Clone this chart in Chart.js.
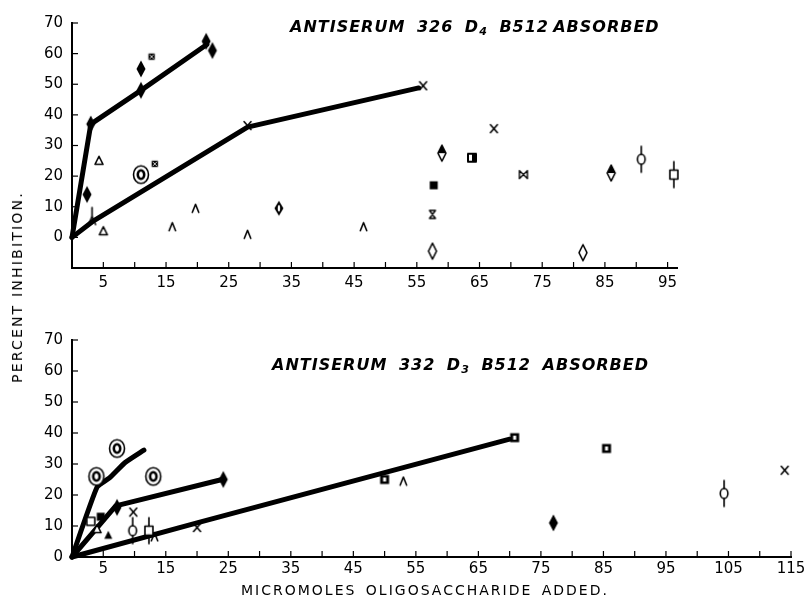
<!DOCTYPE html>
<html>
<head>
<meta charset="utf-8">
<script src="https://cdn.jsdelivr.net/npm/chart.js@4"></script>
<style>
  html,body{margin:0;padding:0;background:#fff;}
  #wrap{position:relative;width:808px;height:601px;overflow:hidden;background:#fff;}
  canvas{position:absolute;left:0;}
  .ttl{position:absolute;font:italic bold 16px "DejaVu Sans";letter-spacing:1px;word-spacing:5px;white-space:nowrap;color:#000;}
  .ttl sub{font-size:11px;vertical-align:-3px;}
  .ax{position:absolute;font:14px "DejaVu Sans";white-space:nowrap;color:#000;}
</style>
</head>
<body>
<div id="wrap">
  <canvas id="top" width="808" height="300" style="top:0"></canvas>
  <canvas id="bot" width="808" height="301" style="top:300px"></canvas>
  <div class="ttl" style="left:290px;top:17px;">ANTISERUM 326 D<sub>4</sub> B512<span style="word-spacing:0">&#8201;</span>ABSORBED</div>
  <div class="ttl" style="left:272px;top:355px;">ANTISERUM 332 D<sub>3</sub> B512 ABSORBED</div>
  <div class="ax" style="left:17px;top:287px;transform:translate(-50%,-50%) rotate(-90deg);letter-spacing:2.2px;">PERCENT INHIBITION.</div>
  <div class="ax" style="left:425px;top:590px;transform:translate(-50%,-50%);letter-spacing:2px;word-spacing:3px;">MICROMOLES OLIGOSACCHARIDE ADDED.</div>
</div>
<script>
// ---------------- DATA ----------------
// top panel: Antiserum 326 D4
const topLineAX = [0, 3, 11, 21.5];
const topLineAY = [0, 37, 48, 63];
const topLineBX = [0, 3.5, 28, 55.3];
const topLineBY = [0, 5.5, 36, 48.8];
const topDiaX = [2.4, 3, 11, 11, 21.4, 22.4];
const topDiaY = [14, 37, 48, 55, 64, 61];
const topCrossX = [28, 56, 67.3];
const topCrossY = [36.5, 49.5, 35.5];
const topStarX = [12.7, 13.2];
const topStarY = [59, 24];
const topTriX = [4.3, 5];
const topTriY = [25, 2];
const topLambdaX = [3.2];
const topLambdaY = [6.5];
const topRingX = [11];
const topRingY = [20.5];
const topCaretX = [16, 19.7, 28, 46.5];
const topCaretY = [3.5, 9.5, 1, 3.5];
const topDotDiaX = [33];
const topDotDiaY = [9.5];
const topFSqX = [57.7];
const topFSqY = [17];
const topHourX = [57.5];
const topHourY = [7.5];
const topODiaX = [57.5, 81.5];
const topODiaY = [-4.5, -5];
const topHDiaX = [59, 86];
const topHDiaY = [27.5, 21];
const topDotSqX = [63.8];
const topDotSqY = [26];
const topBowX = [72];
const topBowY = [20.5];
const topCircBarX = [90.8];
const topCircBarY = [25.5];
const topSqBarX = [96];
const topSqBarY = [20.5];

// bottom panel: Antiserum 332 D3
const botLineCX = [0, 4, 6, 8.5, 11.5];
const botLineCY = [0, 22.5, 25.5, 30.5, 34.5];
const botLineDX = [0, 7, 24];
const botLineDY = [0, 16.5, 25];
const botLineEX = [0, 20, 70];
const botLineEY = [0, 11, 38];
const botRingX = [3.9, 7.2, 13];
const botRingY = [26, 35, 26];
const botDiaX = [7.2, 24.2, 77];
const botDiaY = [16, 25, 11];
const botFSqX = [4.6];
const botFSqY = [13];
const botOSqX = [3];
const botOSqY = [11.5];
const botOTriX = [4];
const botOTriY = [9];
const botFTriX = [5.8];
const botFTriY = [7];
const botCrossX = [9.8, 20, 114];
const botCrossY = [14.5, 9.5, 28];
const botCircBarX = [9.7, 104.3];
const botCircBarY = [8.5, 20.5];
const botSqBarX = [12.3];
const botSqBarY = [8.5];
const botCaretX = [13.2, 53];
const botCaretY = [6.5, 24.5];
const botBoxSqX = [50, 70.8, 85.5];
const botBoxSqY = [25, 38.5, 35];

// axis ticks
const yTickStep = 10;
const xTickStep = 5;
const topX = {min: 0, max: 96.5};
const topY = {min: -10, max: 70};
const botX = {min: 0, max: 115};
const botY = {min: 0, max: 70};

// ---------------- MARKERS ----------------
function mk(w, h, fn) {
  const c = document.createElement('canvas');
  c.width = w; c.height = h;
  const g = c.getContext('2d');
  g.translate(w / 2, h / 2);
  g.fillStyle = '#000'; g.strokeStyle = '#000';
  g.lineWidth = 1.6; g.lineJoin = 'round'; g.lineCap = 'round';
  fn(g);
  return c;
}
function dia(g, rx, ry) { g.beginPath(); g.moveTo(0, -ry); g.lineTo(rx, 0); g.lineTo(0, ry); g.lineTo(-rx, 0); g.closePath(); }
function ln(g, a, b, c, d) { g.beginPath(); g.moveTo(a, b); g.lineTo(c, d); g.stroke(); }
const M = {
  fDiamond: mk(12, 20, g => { dia(g, 4.5, 8.5); g.fill(); }),
  oDiamond: mk(12, 20, g => { dia(g, 4, 8); g.fillStyle = '#fff'; g.fill(); g.stroke(); }),
  hDiamond: mk(12, 20, g => { dia(g, 4, 8); g.fillStyle = '#fff'; g.fill(); g.fillStyle = '#000';
    g.beginPath(); g.moveTo(0, -8); g.lineTo(4, 0); g.lineTo(-4, 0); g.closePath(); g.fill(); dia(g, 4, 8); g.stroke(); }),
  dotDiamond: mk(12, 18, g => { dia(g, 4.5, 7.5); g.fill(); g.fillStyle = '#fff'; g.beginPath(); g.ellipse(0, 0, 1.2, 3.2, 0, 0, 7); g.fill(); }),
  cross: mk(11, 11, g => { ln(g, -3.5, -4, 3.5, 4); ln(g, 3.5, -4, -3.5, 4); }),
  caret: mk(11, 11, g => { g.beginPath(); g.moveTo(-3.2, 4); g.lineTo(0, -4); g.lineTo(3.2, 4); g.stroke(); }),
  lambda: mk(11, 24, g => { g.beginPath(); g.moveTo(-3.5, 7); g.lineTo(0, -1); g.lineTo(3.5, 7); g.stroke(); ln(g, 0, -1, 0, -10); }),
  ring: mk(20, 22, g => { g.fillStyle = '#fff'; g.beginPath(); g.ellipse(0, 0, 7.5, 8.8, 0, 0, 7); g.fill(); g.stroke();
    g.lineWidth = 2.6; g.beginPath(); g.ellipse(0, 0, 3.2, 4.3, 0, 0, 7); g.stroke(); }),
  star: mk(10, 10, g => { g.fillRect(-3.2, -3.2, 6.4, 6.4); g.strokeStyle = '#fff'; g.lineWidth = 0.8; ln(g, -2, -2, 2, 2); ln(g, 2, -2, -2, 2); }),
  fSquare: mk(11, 11, g => { g.fillRect(-4, -4, 8, 8); }),
  dotSq: mk(12, 12, g => { g.fillStyle = '#fff'; g.fillRect(-4, -4, 8, 8); g.lineWidth = 2; g.strokeRect(-4, -4, 8, 8); g.fillStyle = '#000'; g.fillRect(0, -3, 3, 6); }),
  hour: mk(10, 12, g => { g.lineWidth = 1.4; g.beginPath(); g.moveTo(-3, -4); g.lineTo(3, -4); g.lineTo(-3, 4); g.lineTo(3, 4); g.closePath(); g.stroke(); }),
  bow: mk(12, 11, g => { g.lineWidth = 1.4; g.beginPath(); g.moveTo(-4, -4); g.lineTo(4, 4); g.lineTo(4, -4); g.lineTo(-4, 4); g.closePath(); g.stroke(); }),
  circBar: mk(12, 30, g => { g.fillStyle = '#fff'; g.beginPath(); g.ellipse(0, 0, 3.8, 5, 0, 0, 7); g.fill(); g.stroke(); ln(g, 0, -13, 0, -5); ln(g, 0, 5, 0, 13); }),
  sqBar: mk(12, 30, g => { g.fillStyle = '#fff'; g.fillRect(-4, -4.5, 8, 9); g.strokeRect(-4, -4.5, 8, 9); ln(g, 0, -13, 0, -4.5); ln(g, 0, 4.5, 0, 13); }),
  boxSq: mk(12, 12, g => { g.fillRect(-4.5, -4.5, 9, 9); g.fillStyle = '#fff'; g.fillRect(-1.5, -2, 3, 4); }),
  oTri: mk(12, 12, g => { g.fillStyle = '#fff'; g.beginPath(); g.moveTo(0, -4.5); g.lineTo(4, 3.5); g.lineTo(-4, 3.5); g.closePath(); g.fill(); g.stroke(); }),
  fTri: mk(12, 12, g => { g.beginPath(); g.moveTo(0, -4.5); g.lineTo(4, 3.5); g.lineTo(-4, 3.5); g.closePath(); g.fill(); }),
  oSq: mk(12, 12, g => { g.fillStyle = '#fff'; g.fillRect(-4, -4, 8, 8); g.strokeRect(-4, -4, 8, 8); })
};

// ---------------- BUILD ----------------
const pts = (xs, ys) => xs.map((x, i) => ({x, y: ys[i]}));
function lineDs(xs, ys, tension) {
  return {data: pts(xs, ys), showLine: true, borderColor: '#000', borderWidth: 5, pointRadius: 0,
    borderCapStyle: 'round', borderJoinStyle: 'round', tension: tension || 0, order: 10, clip: false};
}
function markDs(xs, ys, style) {
  return {data: pts(xs, ys), showLine: false, pointStyle: M[style], pointRadius: 6, order: 0, clip: false};
}

const tickPlugin = {
  id: 'inTicks',
  afterDraw(chart) {
    const {ctx, scales: {x, y}} = chart;
    ctx.save(); ctx.strokeStyle = '#000'; ctx.lineWidth = 1.2;
    x.ticks.forEach(t => { if (t.value <= x.min) return; const p = x.getPixelForValue(t.value);
      ctx.beginPath(); ctx.moveTo(p, x.top); ctx.lineTo(p, x.top - 6); ctx.stroke(); });
    y.ticks.forEach(t => { if (t.value < 0) return; const p = y.getPixelForValue(t.value);
      ctx.beginPath(); ctx.moveTo(y.right, p); ctx.lineTo(y.right + 6, p); ctx.stroke(); });
    ctx.restore();
  }
};

function makeChart(id, datasets, xr, yr, pad, xH, xPad) {
  return new Chart(document.getElementById(id), {
    type: 'scatter',
    data: {datasets},
    plugins: [tickPlugin],
    options: {
      responsive: false, animation: false, devicePixelRatio: 1,
      layout: {padding: pad},
      plugins: {legend: {display: false}, tooltip: {enabled: false}},
      scales: {
        x: {type: 'linear', min: xr.min, max: xr.max,
          grid: {drawOnChartArea: false, drawTicks: false},
          border: {display: true, color: '#000', width: 2},
          ticks: {stepSize: xTickStep, includeBounds: false, autoSkip: false, maxRotation: 0, padding: xPad,
            color: '#000', font: {family: 'DejaVu Sans', size: 15},
            callback: v => ((v - 5) % 10 === 0 ? String(v) : '')},
          afterFit: s => { s.height = xH; s.paddingLeft = 0; s.paddingRight = 0; }
        },
        y: {type: 'linear', min: yr.min, max: yr.max,
          grid: {drawOnChartArea: false, drawTicks: false},
          border: {display: true, color: '#000', width: 2},
          ticks: {stepSize: yTickStep, padding: 9, color: '#000', font: {family: 'DejaVu Sans', size: 15},
            callback: v => (v >= 0 ? String(v) : '')},
          afterFit: s => { s.width = 72; s.paddingTop = 0; s.paddingBottom = 0; }
        }
      }
    }
  });
}

makeChart('top', [
  markDs(topDiaX, topDiaY, 'fDiamond'),
  markDs(topCrossX, topCrossY, 'cross'),
  markDs(topStarX, topStarY, 'star'),
  markDs(topTriX, topTriY, 'oTri'),
  markDs(topLambdaX, topLambdaY, 'lambda'),
  markDs(topRingX, topRingY, 'ring'),
  markDs(topCaretX, topCaretY, 'caret'),
  markDs(topDotDiaX, topDotDiaY, 'dotDiamond'),
  markDs(topFSqX, topFSqY, 'fSquare'),
  markDs(topHourX, topHourY, 'hour'),
  markDs(topODiaX, topODiaY, 'oDiamond'),
  markDs(topHDiaX, topHDiaY, 'hDiamond'),
  markDs(topDotSqX, topDotSqY, 'dotSq'),
  markDs(topBowX, topBowY, 'bow'),
  markDs(topCircBarX, topCircBarY, 'circBar'),
  markDs(topSqBarX, topSqBarY, 'sqBar'),
  lineDs(topLineAX, topLineAY),
  lineDs(topLineBX, topLineBY)
], topX, topY, {left: 0, top: 23, right: 131, bottom: 0}, 32, 6);

makeChart('bot', [
  markDs(botRingX, botRingY, 'ring'),
  markDs(botDiaX, botDiaY, 'fDiamond'),
  markDs(botFSqX, botFSqY, 'fSquare'),
  markDs(botOSqX, botOSqY, 'oSq'),
  markDs(botOTriX, botOTriY, 'oTri'),
  markDs(botFTriX, botFTriY, 'fTri'),
  markDs(botCrossX, botCrossY, 'cross'),
  markDs(botCircBarX, botCircBarY, 'circBar'),
  markDs(botSqBarX, botSqBarY, 'sqBar'),
  markDs(botCaretX, botCaretY, 'caret'),
  markDs(botBoxSqX, botBoxSqY, 'boxSq'),
  lineDs(botLineCX, botLineCY, 0.15),
  lineDs(botLineDX, botLineDY),
  lineDs(botLineEX, botLineEY)
], botX, botY, {left: 0, top: 40, right: 17, bottom: 0}, 44, 3);
</script>
</body>
</html>
